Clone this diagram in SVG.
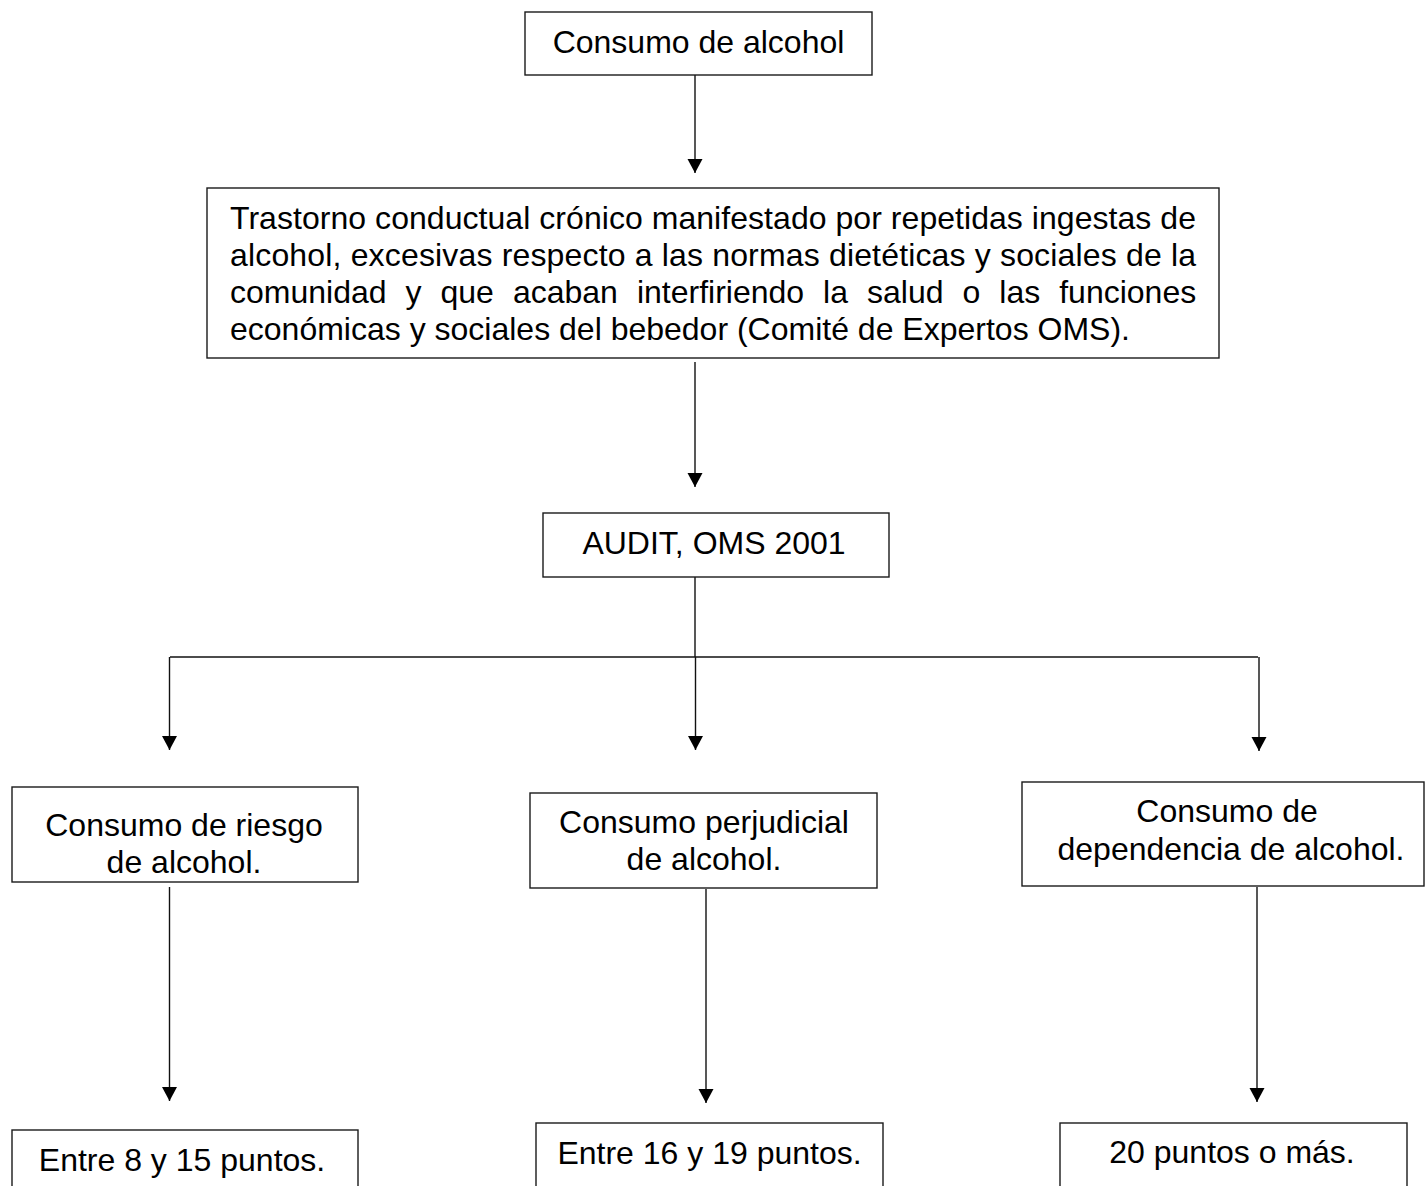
<svg xmlns="http://www.w3.org/2000/svg" width="1425" height="1186" viewBox="0 0 1425 1186">
<style>
.box{fill:#fff;stroke:#1a1a1a;stroke-width:1.4}
.t{font-family:"Liberation Sans",Arial,sans-serif;font-size:32px;fill:#000}
.c{text-anchor:middle}
.ln{fill:none;stroke:#111;stroke-width:1.4}
</style>
<defs>
<marker id="ah" markerUnits="userSpaceOnUse" markerWidth="15" markerHeight="16" refX="14" refY="7.5" orient="auto">
<path d="M0,0 L14,7.5 L0,15 z" fill="#000"/>
</marker>
</defs>
<rect width="1425" height="1186" fill="#fff"/>
<g id="connectors">
<line class="ln" x1="695" y1="75" x2="695" y2="173" marker-end="url(#ah)"/>
<line class="ln" x1="695" y1="362" x2="695" y2="487" marker-end="url(#ah)"/>
<line class="ln" x1="695" y1="577" x2="695" y2="657"/>
<line class="ln" x1="170" y1="657" x2="1258" y2="657"/>
<line class="ln" x1="169.5" y1="657" x2="169.5" y2="750" marker-end="url(#ah)"/>
<line class="ln" x1="695.5" y1="657" x2="695.5" y2="750" marker-end="url(#ah)"/>
<line class="ln" x1="1259" y1="657" x2="1259" y2="751" marker-end="url(#ah)"/>
<line class="ln" x1="169.5" y1="887" x2="169.5" y2="1101" marker-end="url(#ah)"/>
<line class="ln" x1="706" y1="889" x2="706" y2="1103" marker-end="url(#ah)"/>
<line class="ln" x1="1257" y1="887" x2="1257" y2="1102" marker-end="url(#ah)"/>
</g>
<g id="n-consumo">
<rect class="box" x="525" y="12" width="347" height="63"/>
<text class="t c" x="698.5" y="53">Consumo de alcohol</text>
</g>
<g id="n-definicion">
<rect class="box" x="207" y="188" width="1012" height="170"/>
<text class="t" x="230" y="229" textLength="966" lengthAdjust="spacing">Trastorno conductual crónico manifestado por repetidas ingestas de</text>
<text class="t" x="230" y="266" textLength="966" lengthAdjust="spacing">alcohol, excesivas respecto a las normas dietéticas y sociales de la</text>
<text class="t" y="303"><tspan x="230">comunidad</tspan><tspan x="405.5">y</tspan><tspan x="440.5">que</tspan><tspan x="512.9">acaban</tspan><tspan x="636.9">interfiriendo</tspan><tspan x="823.1">la</tspan><tspan x="867">salud</tspan><tspan x="962.5">o</tspan><tspan x="999.3">las</tspan><tspan x="1059.2">funciones</tspan></text>
<text class="t" x="230" y="340">económicas y sociales del bebedor (Comité de Expertos OMS).</text>
</g>
<g id="n-audit">
<rect class="box" x="543" y="513" width="346" height="64"/>
<text class="t c" x="714" y="554">AUDIT, OMS 2001</text>
</g>
<g id="n-riesgo">
<rect class="box" x="12" y="787" width="346" height="95"/>
<text class="t c" x="184" y="836">Consumo de riesgo</text>
<text class="t c" x="184" y="873">de alcohol.</text>
</g>
<g id="n-perjudicial">
<rect class="box" x="530" y="793" width="347" height="95"/>
<text class="t c" x="704" y="833">Consumo perjudicial</text>
<text class="t c" x="704" y="870">de alcohol.</text>
</g>
<g id="n-dependencia">
<rect class="box" x="1022" y="782" width="402" height="104"/>
<text class="t c" x="1227" y="822">Consumo de</text>
<text class="t c" x="1231" y="860">dependencia de alcohol.</text>
</g>
<g id="n-p1">
<rect class="box" x="12" y="1130" width="346" height="70"/>
<text class="t c" x="182" y="1171">Entre 8 y 15 puntos.</text>
</g>
<g id="n-p2">
<rect class="box" x="536" y="1123" width="347" height="77"/>
<text class="t c" x="709.5" y="1164">Entre 16 y 19 puntos.</text>
</g>
<g id="n-p3">
<rect class="box" x="1060" y="1123" width="347" height="77"/>
<text class="t c" x="1232" y="1163">20 puntos o más.</text>
</g>
</svg>
